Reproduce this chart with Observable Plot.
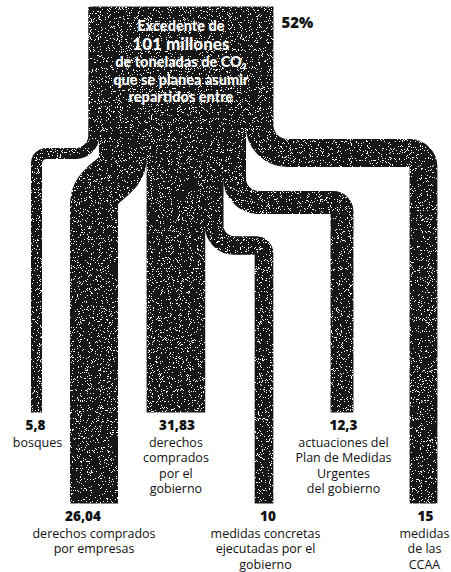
<!DOCTYPE html>
<html>
<head>
<meta charset="utf-8">
<script src="https://cdn.jsdelivr.net/npm/d3@7"></script>
<script src="https://cdn.jsdelivr.net/npm/@observablehq/plot@0.6"></script>
<style>
  html, body { margin: 0; padding: 0; background: #fff; }
  #chart svg { display: block; }
</style>
</head>
<body>
<div id="chart"></div>
<script>
// ---------- data ----------
const categories = ["bosques", "empresas", "gobierno", "medidas", "actuaciones", "ccaa"];
const values = [5.8, 26.04, 31.83, 10, 12.3, 15];           // millones de t CO2
const valueLabels = ["5,8", "26,04", "31,83", "10", "12,3", "15"];
const descriptions = [
  ["bosques"],
  ["derechos comprados", "por empresas"],
  ["derechos", "comprados", "por el", "gobierno"],
  ["medidas concretas", "ejecutadas por el", "gobierno"],
  ["actuaciones del", "Plan de Medidas", "Urgentes", "del gobierno"],
  ["medidas", "de las", "CCAA"]
];
const totalLines = ["Excedente de", "101 millones", "de toneladas de CO₂", "que se planea asumir", "repartidos entre"];
const shareLabel = "52%";

// ---------- layout (pixels) ----------
const W = 451, H = 572;
const K = 1.83;                     // px per million tonnes
const xMax = W / K;                 // x domain in million tonnes
const blockLeftPx = 88, topY = 6;
const colXPx  = [36, 93.5, null, 263.5, 341.5, 423];
const turnY   = [153, null, null, 245, 202, 152.5];
const bump    = [null, [156, 204], null, null, null, null];
const bottomY = [412, 503, 412, 503, 412, 503];
const radii   = [[18, 10], null, null, [20, 8], [24, 9], [28, 14]];
const numDx   = [-1, -11, 1, 4, 1.5, 2];
const descDx  = [1, 0, 0, 1.5, 1.5, 1];
const ink = "#141414";

// rounded-corner polyline curve (corners drawn with arcTo)
function roundedCurve(rs) {
  return (context) => {
    let pts;
    return {
      areaStart() {}, areaEnd() {},
      lineStart() { pts = []; },
      point(x, y) { pts.push([+x, +y]); },
      lineEnd() {
        context.moveTo(pts[0][0], pts[0][1]);
        for (let i = 1; i < pts.length - 1; i++) {
          context.arcTo(pts[i][0], pts[i][1], pts[i + 1][0], pts[i + 1][1], rs[i - 1]);
        }
        const last = pts[pts.length - 1];
        context.lineTo(last[0], last[1]);
      }
    };
  };
}

// build branch centerlines from the stacked values
const blockLeft = blockLeftPx / K;
const cum = d3.cumsum(values);
const branches = categories.map((c, i) => {
  const v = values[i];
  const src = blockLeft + cum[i] - v / 2;
  const dst = colXPx[i] == null ? src : colXPx[i] / K;
  let pts;
  if (bump[i]) {
    pts = [[src, topY], [src, bump[i][0]], [dst, bump[i][1]], [dst, bottomY[i]]];
  } else if (turnY[i] != null) {
    pts = [[src, topY], [src, turnY[i]], [dst, turnY[i]], [dst, bottomY[i]]];
  } else {
    pts = [[src, topY], [dst, bottomY[i]]];
  }
  return {category: c, value: v, dst, pts: pts.map(([x, y]) => ({x, y}))};
});

const lineMarks = branches.map((b, i) => Plot.line(b.pts, {
  x: "x", y: "y",
  stroke: ink,
  strokeWidth: b.value * K + 0.4,
  strokeLinecap: "butt",
  strokeLinejoin: "miter",
  curve: bump[i] ? "bump-y" : (radii[i] ? roundedCurve(radii[i]) : "linear")
}));

// labels
const numberRows = branches.map((b, i) => ({x: b.dst + numDx[i] / K, y: bottomY[i] + 13.5, text: valueLabels[i]}));
const descRows = branches.flatMap((b, i) => descriptions[i].map((t, j) => ({
  x: b.dst + descDx[i] / K, y: bottomY[i] + 30 + j * 15.5, text: t
})));

const blockCenter = blockLeft + cum[cum.length - 1] / 2;
const titleY = [26, 44, 62, 80, 97];
const titleSize = [14.5, 17, 14.5, 14.5, 14.5];
const titleRows = totalLines.map((t, i) => ({x: blockCenter, y: titleY[i], text: t, size: titleSize[i]}));

const chart = Plot.plot({
  width: W, height: H,
  marginTop: 0, marginRight: 0, marginBottom: 0, marginLeft: 0,
  x: {domain: [0, xMax], range: [0, W], axis: null},
  y: {domain: [0, H], range: [0, H], axis: null},
  style: {background: "#fff", overflow: "visible"},
  marks: [
    ...lineMarks,
    Plot.text(titleRows, {
      x: "x", y: "y", text: "text", fontSize: "size",
      fill: "#fff", fontWeight: 900, fontFamily: "Lato, 'Open Sans', sans-serif",
      textAnchor: "middle", lineAnchor: "middle"
    }),
    Plot.text([shareLabel], {
      x: () => 281 / K, y: () => 22.5, text: d => d,
      fill: "#111", fontWeight: 800, fontSize: 15, fontFamily: "'Open Sans', sans-serif",
      textAnchor: "start", lineAnchor: "middle"
    }),
    Plot.text(numberRows, {
      x: "x", y: "y", text: "text",
      fill: "#111", fontWeight: 800, fontSize: 13.5, fontFamily: "'Open Sans', sans-serif",
      textAnchor: "middle", lineAnchor: "middle"
    }),
    Plot.text(descRows, {
      x: "x", y: "y", text: "text",
      fill: "#111", fontSize: 12.5, fontFamily: "'Open Sans', sans-serif",
      textAnchor: "middle", lineAnchor: "middle"
    })
  ]
});
document.getElementById("chart").appendChild(chart);

// printed-grain texture on the flows (white speckles knocked out of the ink)
const svg = d3.select(chart);
const defs = svg.insert("defs", ":first-child");
const f = defs.append("filter").attr("id", "grain")
  .attr("filterUnits", "userSpaceOnUse")
  .attr("x", 0).attr("y", 0).attr("width", W).attr("height", H);
f.append("feTurbulence").attr("type", "fractalNoise").attr("baseFrequency", 1.1)
  .attr("numOctaves", 2).attr("seed", 7).attr("result", "noise");
f.append("feColorMatrix").attr("in", "noise").attr("type", "matrix")
  .attr("values", "0 0 0 0 0  0 0 0 0 0  0 0 0 0 0  1 0 0 0 0").attr("result", "na");
f.append("feComponentTransfer").attr("in", "na").attr("result", "spots")
  .append("feFuncA").attr("type", "discrete").attr("tableValues", "0 0 0 0 0 0 0 0 0 0 0 0 0 1 1 1 1 1 1 1");
f.append("feComposite").attr("in", "SourceGraphic").attr("in2", "spots").attr("operator", "out");
svg.selectAll('g[aria-label="line"]').attr("filter", "url(#grain)");
</script>
</body>
</html>
